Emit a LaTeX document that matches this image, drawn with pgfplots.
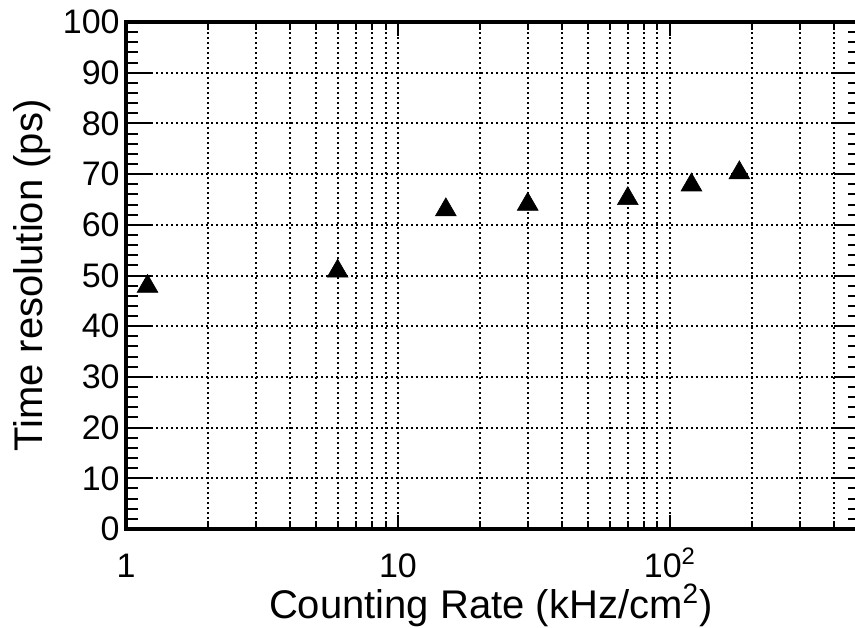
\documentclass[border=0pt]{standalone}
\usepackage{fontspec}
\setmainfont{Liberation Sans}
\usepackage{pgfplots}
\pgfplotsset{compat=1.18}
\begin{document}
\begin{tikzpicture}
\begin{axis}[
  xmode=log,
  scale only axis, width=367pt, height=253.5pt,
  xmin=1, xmax=500, ymin=0, ymax=100,
  axis line style={line width=2pt, black},
  tick style={line width=1pt, black},
  xtick={1,10,100},
  xticklabels={1,10,10\textsuperscript{2}},
  minor xtick={2,3,4,5,6,7,8,9,20,30,40,50,60,70,80,90,200,300,400},
  ytick={0,10,20,30,40,50,60,70,80,90,100},
  yticklabels={0,10,20,30,40,50,60,70,80,90,100},
  major tick length=7pt, minor tick length=4pt,
  ytick style={draw=none},
  xmajorgrids=true, xminorgrids=true, ymajorgrids=true,
  grid style={black, line width=1pt, dash pattern=on 1pt off 1.5pt},
  minor grid style={black, line width=1pt, dash pattern=on 1pt off 1.5pt},
  yticklabel style={font=\fontsize{17}{20}\selectfont, inner sep=0pt, anchor=east, xshift=-3pt},
  xticklabel style={font=\fontsize{17}{20}\selectfont, inner sep=0pt, anchor=base, yshift=-24pt},
  xlabel={Counting Rate (kHz/cm\textsuperscript{2})},
  ylabel={Time resolution (ps)},
  every axis x label/.style={at={(axis description cs:0.497,-0.1760)}, anchor=base, inner sep=0pt, font=\fontsize{20}{24}\selectfont},
  every axis y label/.style={at={(axis description cs:-0.1131,0.5)}, rotate=90, anchor=base, inner sep=0pt, font=\fontsize{20}{24}\selectfont},
]
\addplot[only marks, mark=triangle*, mark size=6pt, black,
  mark options={yshift=-1.9pt, line width=0.3pt}]
  coordinates {(1.2,48.6) (6,51.6) (15,63.7) (30,64.8) (70,65.9) (120,68.6) (180,71.0)};
\end{axis}
\begin{axis}[
  xmode=log,
  scale only axis, width=367pt, height=253.5pt,
  xmin=1, xmax=500, ymin=0, ymax=100,
  axis line style={line width=2pt, black},
  tick style={line width=1pt, black},
  xtick=\empty,
  ytick={0,10,20,30,40,50,60,70,80,90,100},
  minor y tick num=4,
  yticklabels={},
  major tick length=13pt, minor tick length=6pt,
]
\end{axis}
\pgfresetboundingbox
\path[use as bounding box] ([xshift=-63pt,yshift=-49pt]current axis.south west) rectangle ([xshift=364.5pt,yshift=264.5pt]current axis.south west);
\end{tikzpicture}
\end{document}
